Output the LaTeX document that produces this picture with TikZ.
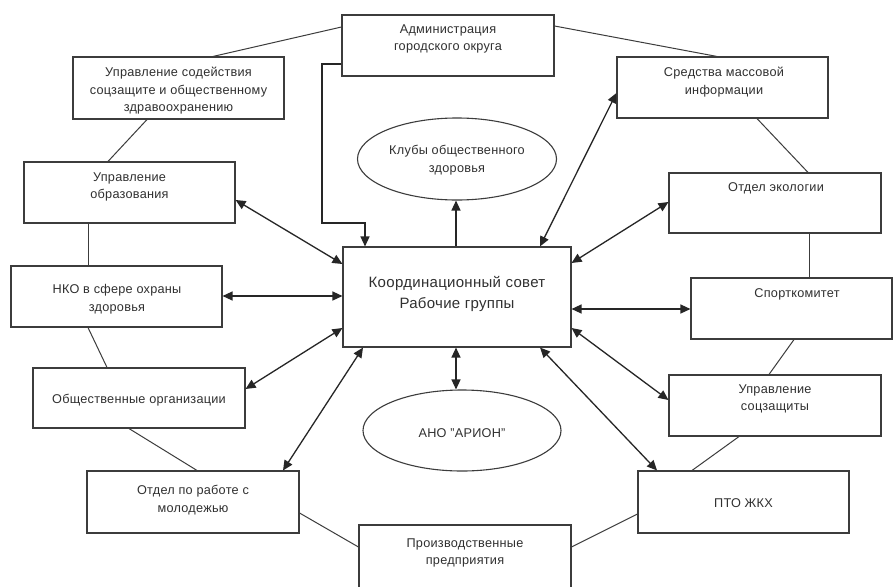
\documentclass[tikz,border=0pt]{standalone}
\usepackage{fontspec}
\setmainfont{Liberation Sans}[LetterSpace=2]
\usetikzlibrary{arrows.meta,shapes.geometric}
\definecolor{linec}{HTML}{3C3C3C}
\definecolor{textc}{HTML}{303030}
\begin{document}
\begin{tikzpicture}[x=1pt,y=-1pt,
  box/.style={draw=linec,line width=1.1pt,rectangle,inner sep=0pt},
  oval/.style={draw=linec,line width=1.1pt,ellipse,inner sep=0pt},
  txt/.style={text=textc,align=center,inner sep=0pt,font=\fontsize{12.7}{17.5}\selectfont},
  bigtxt/.style={text=textc,align=center,inner sep=0pt,font=\fontsize{15}{21.5}\selectfont},
  link/.style={draw=linec,line width=1pt},
  arr/.style={draw=black!85,line width=1.3pt,-{Triangle[length=10pt,width=9pt]}},
  darr/.style={draw=black!85,line width=1.3pt,{Triangle[length=10pt,width=9pt]}-{Triangle[length=10pt,width=9pt]}}]
\useasboundingbox (0,0) rectangle (893,586);
\fill[white] (0,0) rectangle (893,586);
\begin{scope}
\clip (0,0) rectangle (893,586);
% boxes
\node[box,minimum width=212pt,minimum height=61pt] (admin) at (448,45.5) {};
\node[box,minimum width=211pt,minimum height=62pt] (usz) at (178.5,88) {};
\node[box,minimum width=211pt,minimum height=61pt] (obr) at (129.5,192.5) {};
\node[box,minimum width=211pt,minimum height=61pt] (nko) at (116.5,296.5) {};
\node[box,minimum width=212pt,minimum height=60pt] (org) at (139,398) {};
\node[box,minimum width=212pt,minimum height=62pt] (mol) at (193,502) {};
\node[box,minimum width=212pt,minimum height=64pt] (proiz) at (465,557) {};
\node[box,minimum width=211pt,minimum height=62pt] (pto) at (743.5,502) {};
\node[box,minimum width=212pt,minimum height=61pt] (sots) at (775,405.5) {};
\node[box,minimum width=201pt,minimum height=61pt] (sport) at (791.5,308.5) {};
\node[box,minimum width=212pt,minimum height=60pt] (ekol) at (775,203) {};
\node[box,minimum width=211pt,minimum height=61pt] (smi) at (722.5,87.5) {};
\node[box,minimum width=228pt,minimum height=100pt] (center) at (457,297) {};
\node[oval,minimum width=199pt,minimum height=82pt] (klub) at (457,159) {};
\node[oval,minimum width=198pt,minimum height=81pt] (arion) at (462,430.5) {};
% texts
\node[txt] (admin-t) at (448,39) {Администрация\\городского округа};
\node[txt] (usz-t) at (178.5,91) {Управление содействия\\соцзащите и общественному\\здравоохранению};
\node[txt] (obr-t) at (129.5,187) {Управление\\образования};
\node[txt] (nko-t) at (117,299) {НКО в сфере охраны\\здоровья};
\node[txt] (org-t) at (139,400) {Общественные организации};
\node[txt] (mol-t) at (193,500) {Отдел по работе с\\молодежью};
\node[txt] (proiz-t) at (465,553) {Производственные\\предприятия};
\node[txt] (pto-t) at (743.5,503) {ПТО ЖКХ};
\node[txt] (sots-t) at (775,399) {Управление\\соцзащиты};
\node[txt] (sport-t) at (797,294) {Спорткомитет};
\node[txt] (ekol-t) at (776,188) {Отдел экологии};
\node[txt] (smi-t) at (724,82) {Средства массовой\\информации};
\node[txt] (klub-t) at (457,160) {Клубы общественного\\здоровья};
\node[txt] (arion-t) at (462,433) {АНО "АРИОН"};
\node[bigtxt] (center-t) at (457,294) {Координационный совет\\Рабочие группы};
% plain links
\draw[link] (admin.west |- 0,27) -- (usz.north -| 213,0);
\draw[link] (admin.east |- 0,26) -- (smi.north -| 717,0);
\draw[link] (usz.south -| 147,0) -- (obr.north -| 108,0);
\draw[link] (obr.south -| 88,0) -- (nko.north -| 88,0);
\draw[link] (nko.south -| 88,0) -- (org.north -| 107,0);
\draw[link] (org.south -| 129,0) -- (mol.north -| 197,0);
\draw[link] (mol.east |- 0,513) -- (proiz.west |- 0,547);
\draw[link] (proiz.east |- 0,547) -- (pto.west |- 0,514);
\draw[link] (pto.north -| 692,0) -- (sots.south -| 739,0);
\draw[link] (sots.north -| 769,0) -- (sport.south -| 794,0);
\draw[link] (sport.north -| 809,0) -- (ekol.south -| 809,0);
\draw[link] (ekol.north -| 808,0) -- (smi.south -| 757,0);
% arrows
\draw[arr] (admin.west |- 0,64) -- (322,64) -- (322,223) -- (365,223) -- (center.north -| 365,0);
\draw[arr] (center.north -| 456,0) -- (klub.south -| 456,0);
\draw[darr] (center.south -| 456,0) -- (arion.north -| 456,0);
\draw[darr] (center.north -| 540,0) -- (smi.west |- 0,93);
\draw[darr] (center.east |- 0,263) -- (ekol.west |- 0,202);
\draw[darr] (center.east |- 0,309) -- (sport.west |- 0,309);
\draw[darr] (center.east |- 0,328) -- (sots.west |- 0,400);
\draw[darr] (center.south -| 540,0) -- (pto.north -| 657,0);
\draw[darr] (center.south -| 363,0) -- (mol.north -| 283,0);
\draw[darr] (center.west |- 0,328) -- (org.east |- 0,389);
\draw[darr] (center.west |- 0,296) -- (nko.east |- 0,296);
\draw[darr] (center.west |- 0,264) -- (obr.east |- 0,200);
\end{scope}
\end{tikzpicture}
\end{document}
